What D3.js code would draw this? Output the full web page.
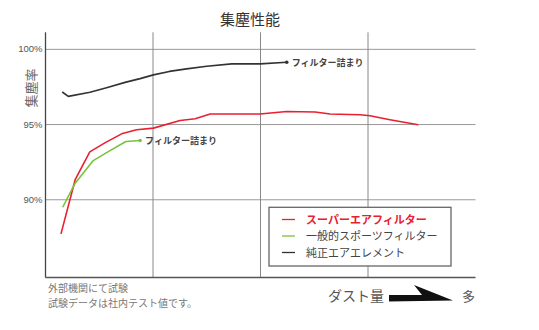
<!DOCTYPE html>
<html>
<head>
<meta charset="utf-8">
<script src="https://cdn.jsdelivr.net/npm/d3@7"></script>
<style>
  html, body { margin: 0; padding: 0; background: #fff; }
  svg { display: block; font-family: "Noto Sans CJK JP", "Noto Sans", sans-serif; }
</style>
</head>
<body>
<svg id="chart" width="539" height="330"></svg>
<script>
// Dust load (0 = clean, 100 = heavy) vs. collection efficiency (%)
const superX = [3.6, 6.9, 10.3, 13.8, 17.7, 21.2, 25.1, 31.3, 34.8, 38.3, 49.9, 56.1, 62.7, 66.2, 73.1, 75.5, 80.1, 86.7];
const superY = [87.7, 91.3, 93.15, 93.75, 94.35, 94.62, 94.73, 95.24, 95.35, 95.67, 95.67, 95.84, 95.8, 95.67, 95.62, 95.55, 95.29, 94.95];

const sportX = [4.0, 6.9, 11.1, 14.6, 18.7, 22.0];
const sportY = [89.47, 91.07, 92.57, 93.17, 93.84, 93.91];

const oemX = [3.9, 5.3, 10.35, 14.2, 18.5, 22.0, 25.1, 28.8, 32.8, 37.5, 43.3, 49.9, 56.1];
const oemY = [97.13, 96.84, 97.11, 97.42, 97.77, 98.02, 98.27, 98.5, 98.67, 98.84, 99.0, 99.0, 99.11];

const yTicks = [90, 95, 100];
const xGrid = [25, 50, 75];
const seriesNames = ["スーパーエアフィルター", "一般的スポーツフィルター", "純正エアエレメント"];
const seriesColors = ["#e8202f", "#78c23c", "#333333"];
const endLabel = "フィルター詰まり";

const svg = d3.select("#chart");
const x = d3.scaleLinear().domain([0, 100]).range([45.5, 475.5]);
const y = d3.scaleLinear().domain([84.8, 101.1]).range([277.5, 32.3]);

// Title
svg.append("text").attr("x", 250).attr("y", 25).attr("text-anchor", "middle")
  .attr("font-size", 15).attr("fill", "#333").text("集塵性能");

// Horizontal gridlines + labels
const yAxis = d3.axisLeft(y).tickValues(yTicks).tickSize(-(x(100) - x(0))).tickPadding(3)
  .tickFormat(d => d + "%");
const gy = svg.append("g").attr("transform", `translate(${x(0)},0)`).call(yAxis);
gy.select(".domain").remove();
gy.selectAll(".tick line").attr("stroke", "#999").attr("stroke-width", 1);
gy.selectAll(".tick text").attr("font-family", "'Liberation Sans', Arial, sans-serif")
  .attr("font-size", 9.5).attr("fill", "#555");

// Vertical gridlines
svg.append("g").selectAll("line").data(xGrid).join("line")
  .attr("x1", d => x(d)).attr("x2", d => x(d))
  .attr("y1", y(101.1)).attr("y2", y(84.8))
  .attr("stroke", "#888").attr("stroke-width", 1);

// Axes
svg.append("line").attr("x1", x(0)).attr("x2", x(0)).attr("y1", y(101.1)).attr("y2", y(84.8))
  .attr("stroke", "#444").attr("stroke-width", 1.3);
svg.append("line").attr("x1", x(0)).attr("x2", x(100)).attr("y1", y(84.8)).attr("y2", y(84.8))
  .attr("stroke", "#555").attr("stroke-width", 1.3);

// Y axis title
svg.append("text").attr("transform", `translate(36,88) rotate(-90)`)
  .attr("text-anchor", "middle").attr("font-size", 13).attr("fill", "#666").text("集塵率");

// Series lines
const line = d3.line().x(d => x(d[0])).y(d => y(d[1]));
const series = [
  { xs: superX, ys: superY, color: seriesColors[0], end: false },
  { xs: sportX, ys: sportY, color: seriesColors[1], end: true },
  { xs: oemX, ys: oemY, color: seriesColors[2], end: true }
];
series.forEach(s => {
  const pts = s.xs.map((v, i) => [v, s.ys[i]]);
  svg.append("path").datum(pts).attr("d", line).attr("fill", "none")
    .attr("stroke", s.color).attr("stroke-width", 1.6).attr("stroke-linejoin", "round");
  if (s.end) {
    const last = pts[pts.length - 1];
    svg.append("circle").attr("cx", x(last[0])).attr("cy", y(last[1])).attr("r", 1.8).attr("fill", s.color);
    svg.append("text").attr("x", x(last[0]) + 5).attr("y", y(last[1]) + 3.5)
      .attr("font-size", 9).attr("font-weight", "bold").attr("fill", "#444").text(endLabel);
  }
});

// Legend
const lg = svg.append("g");
lg.append("rect").attr("x", 269).attr("y", 207.3).attr("width", 182).attr("height", 58.7)
  .attr("fill", "#fff").attr("stroke", "#666").attr("stroke-width", 1.3);
seriesNames.forEach((name, i) => {
  const yy = 219.5 + i * 16.5;
  lg.append("line").attr("x1", 282).attr("x2", 295).attr("y1", yy).attr("y2", yy)
    .attr("stroke", seriesColors[i]).attr("stroke-width", 1.3);
  lg.append("text").attr("x", 306).attr("y", yy + 4).attr("font-size", 11)
    .attr("font-weight", i === 0 ? "bold" : "normal")
    .attr("fill", i === 0 ? "#e8202f" : "#444").text(name);
});

// Notes
svg.append("text").attr("x", 48).attr("y", 292).attr("font-size", 10).attr("fill", "#777").text("外部機関にて試験");
svg.append("text").attr("x", 48).attr("y", 306.5).attr("font-size", 10).attr("fill", "#777").text("試験データは社内テスト値です。");

// Dust amount arrow
svg.append("text").attr("x", 384).attr("y", 301).attr("text-anchor", "end").attr("font-size", 14)
  .attr("fill", "#555").text("ダスト量");
svg.append("path").attr("d", "M389,295 L422,295 L414,285 L453,300.5 L389,301.5 Z").attr("fill", "#111");
svg.append("text").attr("x", 462).attr("y", 301).attr("font-size", 13).attr("fill", "#555").text("多");
</script>
</body>
</html>
